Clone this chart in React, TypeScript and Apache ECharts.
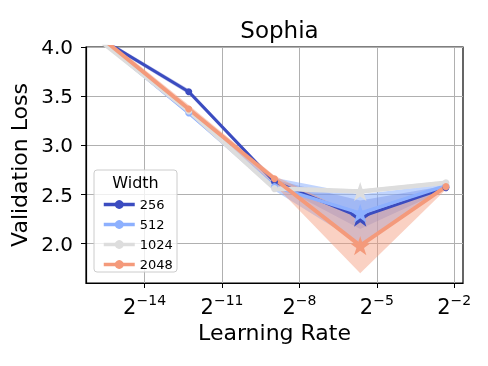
import React, { useEffect, useRef } from "react";
import * as echarts from "echarts";

const learningRates = [2e-5, 2e-4, 2e-3, 2e-2, 2e-1];
const widths = ["256", "512", "1024", "2048"];
const colors = ["#3b4cc0", "#8db0fe", "#dddddd", "#f49a7b"];

const mean256 = [4.07, 3.545, 2.63, 2.27, 2.57];
const low256 = [4.05, 3.52, 2.61, 2.15, 2.55];
const high256 = [4.09, 3.57, 2.65, 2.44, 2.59];

const mean512 = [4.05, 3.33, 2.58, 2.31, 2.59];
const low512 = [4.03, 3.31, 2.54, 2.0, 2.57];
const high512 = [4.07, 3.36, 2.67, 2.5, 2.61];

const mean1024 = [4.04, 3.35, 2.56, 2.53, 2.62];
const low1024 = [4.02, 3.32, 2.53, 2.51, 2.6];
const high1024 = [4.06, 3.38, 2.59, 2.55, 2.64];

const mean2048 = [4.08, 3.37, 2.66, 1.98, 2.58];
const low2048 = [4.05, 3.33, 2.6, 1.7, 2.55];
const high2048 = [4.11, 3.41, 2.69, 2.27, 2.6];

const xTickExponents = [-14, -11, -8, -5, -2];
const yTicks = [2.0, 2.5, 3.0, 3.5, 4.0];

const FONT = "DejaVu Sans";

const starPath =
  "path://" +
  Array.from({ length: 10 }, (_, i) => {
    const r = i % 2 === 0 ? 1 : 0.382;
    const a = -Math.PI / 2 + (i * Math.PI) / 5;
    return `${i === 0 ? "M" : "L"}${(r * Math.cos(a)).toFixed(4)} ${(r * Math.sin(a)).toFixed(4)}`;
  }).join(" ") +
  " Z";

export default function App() {
  const ref = useRef<HTMLDivElement>(null);
  useEffect(() => {
    if (!ref.current) return;
    const chart = echarts.init(ref.current, undefined, { renderer: "svg" });
    const xs = learningRates.map((lr) => Math.log2(lr));
    const means = [mean256, mean512, mean1024, mean2048];
    const lows = [low256, low512, low1024, low2048];
    const highs = [high256, high512, high1024, high2048];
    const lineWidths = [3, 3.5, 4.5, 4];
    const bandOpacity = [0.35, 0.55, 0.5, 0.45];
    const series: any[] = [];
    widths.forEach((w, k) => {
      const bandData = xs.map((x, i) => [x, lows[k][i], highs[k][i]]);
      series.push({
        name: "band-" + w,
        type: "custom",
        clip: true,
        silent: true,
        z: 2,
        data: bandData,
        encode: { x: 0, y: [1, 2] },
        renderItem: (params: any, api: any) => {
          if (params.dataIndex !== 0) return null;
          const upper = bandData.map((d) => api.coord([d[0], d[2]]));
          const lower = bandData.map((d) => api.coord([d[0], d[1]])).reverse();
          return {
            type: "polygon",
            shape: { points: upper.concat(lower) },
            style: { fill: colors[k], opacity: bandOpacity[k] },
          };
        },
      });
      series.push({
        name: w,
        type: "line",
        z: 2,
        data: xs.map((x, i) => [x, means[k][i]]),
        color: colors[k],
        lineStyle: { width: lineWidths[k], color: colors[k] },
        itemStyle: { color: colors[k] },
        symbol: "circle",
        symbolSize: 7,
        showSymbol: true,
      });
    });
    // stars at the best (lowest) mean of each width, drawn on top
    widths.forEach((w, k) => {
      const m = means[k];
      let best = 0;
      m.forEach((v, i) => {
        if (v < m[best]) best = i;
      });
      series.push({
        name: "best-" + w,
        type: "scatter",
        z: 5 + k,
        data: [[xs[best], m[best]]],
        symbol: starPath,
        symbolSize: 20,
        symbolKeepAspect: true,
        itemStyle: { color: colors[k], opacity: 1 },
        silent: true,
      });
    });

    chart.setOption({
      animation: false,
      textStyle: { fontFamily: FONT },
      title: {
        text: "Sophia",
        left: 274.5,
        textAlign: "center",
        top: 13,
        textStyle: { fontSize: 23, fontWeight: "normal", color: "#000", fontFamily: FONT },
      },
      grid: {
        left: 86,
        top: 47,
        right: 25,
        bottom: 83,
        show: true,
        borderColor: "#000",
        borderWidth: 1.2,
        backgroundColor: "transparent",
      },
      xAxis: {
        type: "value",
        min: -16.27,
        max: -1.66,
        name: "Learning Rate",
        nameLocation: "middle",
        nameGap: 37,
        nameTextStyle: { fontSize: 22, color: "#000", fontFamily: FONT },
        axisLine: { show: true, lineStyle: { color: "#000", width: 1.2 } },
        axisTick: { show: true, length: 5, customValues: xTickExponents, lineStyle: { color: "#000" } },
        axisLabel: {
          customValues: xTickExponents,
          margin: 10,
          formatter: (v: number) => `{b|2}{s|\u2212${Math.round(-v)}}`,
          rich: {
            b: { fontSize: 21, lineHeight: 24, verticalAlign: "bottom", color: "#000", fontFamily: FONT },
            s: { fontSize: 14, lineHeight: 14, verticalAlign: "top", color: "#000", fontFamily: FONT },
          },
        },
        splitLine: { show: true, lineStyle: { color: "#b0b0b0", width: 1 } },
      },
      yAxis: {
        type: "value",
        min: 1.6,
        max: 4.0,
        name: "Validation Loss",
        nameLocation: "middle",
        nameGap: 51,
        nameTextStyle: { fontSize: 22, color: "#000", fontFamily: FONT },
        axisLine: { show: true, lineStyle: { color: "#000", width: 1.2 } },
        axisTick: { show: true, length: 5, customValues: yTicks, lineStyle: { color: "#000" } },
        axisLabel: {
          customValues: yTicks,
          margin: 13,
          fontSize: 20,
          color: "#000",
          fontFamily: FONT,
          formatter: (v: number) => v.toFixed(1),
        },
        splitLine: { show: true, lineStyle: { color: "#b0b0b0", width: 1 } },
      },
      legend: {
        data: widths,
        orient: "vertical",
        left: 97,
        top: 193,
        itemWidth: 31,
        itemHeight: 11,
        itemGap: 7,
        z: 12,
        lineStyle: { width: 3.5 },
        textStyle: { fontSize: 13, color: "#000", fontFamily: FONT },
      },
      graphic: [
        {
          type: "rect",
          z: 11,
          shape: { x: 94, y: 170, width: 83, height: 102, r: 3 },
          style: { fill: "rgba(255,255,255,0.8)", stroke: "#cccccc", lineWidth: 1 },
          silent: true,
        },
        {
          type: "text",
          z: 12,
          x: 135.5,
          y: 182,
          style: {
            text: "Width",
            fontSize: 16,
            fontFamily: FONT,
            fill: "#000",
            align: "center",
            verticalAlign: "middle",
          },
          silent: true,
        },
      ],
      series,
    });
    return () => chart.dispose();
  }, []);
  return <div ref={ref} style={{ position: "fixed", left: 0, top: 0, width: 488, height: 366 }} />;
}
